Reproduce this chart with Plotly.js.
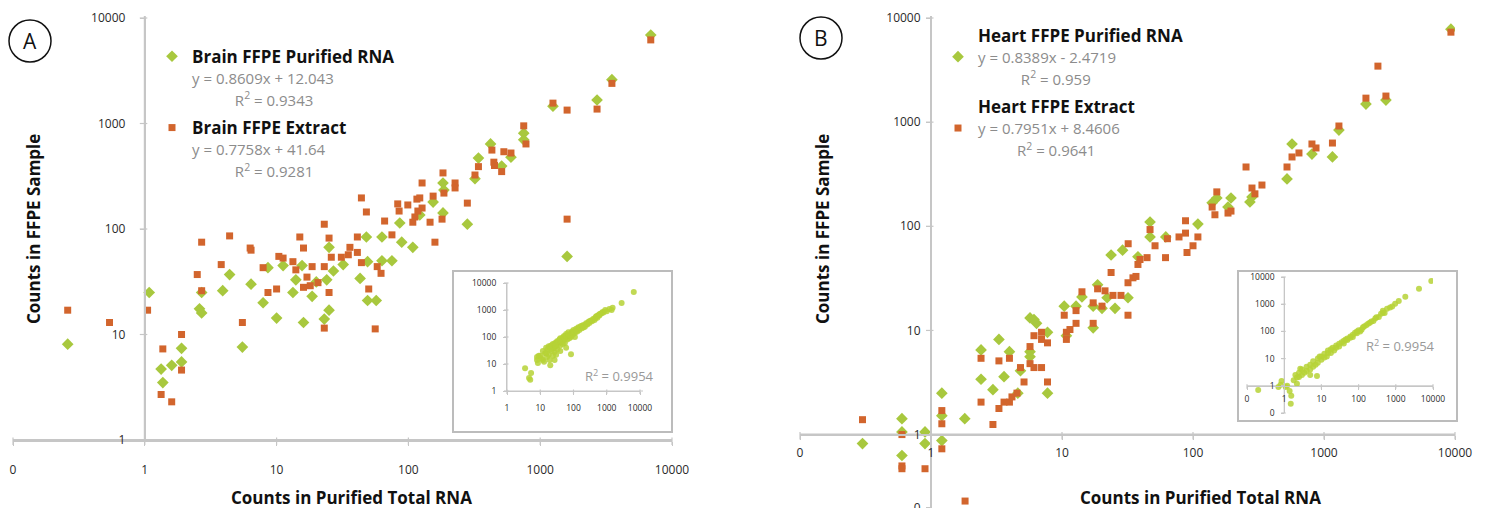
<!DOCTYPE html>
<html><head><meta charset="utf-8">
<script src="https://cdn.plot.ly/plotly-3.0.1.min.js"></script>
<style>html,body{margin:0;padding:0;background:#fff}#chart{width:1489px;height:508px}</style>
</head><body><div id="chart"></div><script>
// ---------- DATA ----------
const mainTickVals = [0.1, 1, 10, 100, 1000, 10000];
const mainTickText = ['0', '1', '10', '100', '1000', '10000'];
const brainYTickVals = [1, 10, 100, 1000, 10000];
const brainYTickText = ['1', '10', '100', '1000', '10000'];
const heartYTickVals = [0.2, 1, 10, 100, 1000, 10000];
const heartYTickText = ['0', '1', '10', '100', '1000', '10000'];
const insetATickVals = [1, 10, 100, 1000, 10000];
const insetATickText = ['1', '10', '100', '1000', '10000'];
const insetBTickVals = [0.1, 1, 10, 100, 1000, 10000];
const insetBTickText = ['0', '1', '10', '100', '1000', '10000'];

const seriesNames = ['Brain FFPE Purified RNA', 'Brain FFPE Extract', 'Heart FFPE Purified RNA', 'Heart FFPE Extract'];
const equations = ['y = 0.8609x + 12.043', 'y = 0.7758x + 41.64', 'y = 0.8389x - 2.4719', 'y = 0.7951x + 8.4606'];
const rSquared = ['0.9343', '0.9281', '0.959', '0.9641'];
const insetRSquared = ['0.9954', '0.9954'];

const brainPurifiedX = [0.26,1.08,1.33,1.37,1.6,1.9,1.9,2.6,2.7,2.7,4.4,3.9,5.5,6.4,8.6,7.9,10,11.2,13.3,14,15.6,16,18.6,20,24,25,23,27,32,43,49,49,57,63,75,86,48,63,89,25,6900,3500,2700,1250,750,750,420,600,340,320,510,183,186,154,122,280,183,108,1600];
const brainPurifiedY = [8.1,25,4.7,3.5,5.1,7.4,5.5,17.5,16,25,37,26,7.6,30,43,20,14.3,45,25,33,45,13,23,31.5,33,17,14,40,46,34,49,21,21,50,50,114,84,84,75,67,6900,2600,1670,1460,810,700,640,480,470,300,395,273,234,180,136,111,142,67,55];

const brainExtractX = [0.26,0.54,1.05,1.37,1.33,1.6,1.9,1.9,2.5,2.7,3.8,5.5,6.4,7.9,8.6,10,10.4,11.2,13.3,14,16,17,18.6,18,20.6,23,25,23,26,31,35,41,44,50,56,58,62,44,48,23,66,83,85,99,116,108,75,2.7,4.4,6.3,15,16,25,41,112,36,6900,3500,2700,1250,1600,750,780,430,530,600,340,320,445,450,510,183,127,226,226,186,154,122,127,118,280,146,180,159,1600];
const brainExtractY = [17,13,17,7.3,2.7,2.3,10,4.6,37,26,46,13,63,43,25,27,55,53,49,41,28,35,44,29,31,44,25,11.5,54,54,57,60,48,27,11.3,44,38,197,145,111,119,173,148,169,192,116,88,75,86,66,84,66,82,84,130,67,6200,2400,1370,1560,1340,950,640,560,540,525,390,325,430,400,350,340,273,273,245,219,205,197,158,148,176,116,124,75,124];

const heartPurifiedX = [0.3,0.6,0.6,0.6,0.9,0.9,1.21,1.21,1.21,1.81,2.41,2.41,2.97,3.3,3.61,3.97,4.6,4.82,5.7,5.7,5.7,6.11,6.39,7.75,7.75,10.4,10.8,12.8,14.2,17.3,17.3,18.7,20.2,22.1,25.4,23.7,31.9,38,29,47,47,62,109,140,152,185,195,272,282,522,570,809,1160,1300,2090,2970,9310];
const heartPurifiedY = [0.82,1.42,1.06,0.63,1.06,0.82,1.52,0.875,2.5,1.42,6.5,3.4,2.7,8.2,3.6,6.25,2.5,4.1,6.25,5.6,13.2,12.7,11.7,9.6,2.5,17.1,8.9,17.1,21,17.1,10.6,27.4,16.3,20.6,16.3,53,20.6,51,59,110,79,79,105,168,187,153,187,171,191,285,617,494,463,840,1490,1630,7810];

const heartExtractX = [0.3,0.6,0.6,0.6,0.9,1.21,1.21,1.21,1.82,2.41,2.97,2.41,3.3,3.3,3.61,3.97,3.97,4.15,4.53,4.82,5.13,5.7,5.7,6.11,6.11,6.98,6.98,6.98,7.75,7.75,10.4,10.8,10.8,11.5,12.8,12.8,14.2,17.3,17.3,18.7,20.2,21.3,23.7,24.5,28.2,31.9,31.9,34.8,36.7,38,39.4,44.6,61.7,90,47,51.3,63.8,78.2,87.7,87.7,109,100,140,147,152,185,195,254,282,297,336,522,570,644,809,869,1160,1300,2090,2970,2580,9310,32];
const heartExtractY = [1.39,1.0,0.5,0.47,0.47,1.7,1.27,0.73,0.23,2.05,1.25,5.4,5.1,1.78,2.05,2.05,5.4,2.3,2.5,4.4,3.2,7.0,4.8,4.4,8.9,9.6,4.4,8.2,7.6,3.2,14,9.6,8.2,10.2,15.5,11.7,23.5,18.4,11.7,25.1,17.1,24,36,21.7,21.7,14,28.7,32,33,43,48,50,50,56,93,65,76,79,86,113,79,65,153,129,214,134,140,371,233,205,249,371,463,506,617,565,630,918,1700,1780,3450,7310,68];

const insetAX = [3.5,4.6,5,5.3,8,8.5,8,12,20,27,84,10,12,14,15,17,18,20,22,24,25,27,28,30,32,33,35,38,40,42,45,48,50,52,55,58,60,65,68,70,75,80,85,90,95,100,110,120,130,140,150,165,180,200,220,240,260,280,300,330,360,400,430,470,520,560,600,650,700,750,800,900,1400,1500,2800,6500,
  15,18,22,26,30,35,40,45,50,55,60,70,80,90,100,120,150,180,200,250,300,350,450,500,600,1000,1200,9,11,13,16,19,24,30,40,60,110,20,28];
const insetAY = [7,3,2.6,4.6,14,11,18,14,9,14,23,20,30,25,40,35,22,45,30,55,38,28,60,45,70,35,55,80,48,65,90,55,75,110,60,95,130,80,110,150,90,130,100,160,120,180,140,200,160,230,180,250,210,280,240,320,290,360,330,400,380,470,430,560,520,640,620,720,760,850,800,1000,1000,1200,1800,4600,
  25,45,50,42,60,70,90,70,100,85,110,120,110,140,150,170,220,260,230,300,380,420,500,600,700,900,1100,20,16,12,18,14,20,22,30,40,100,35,50];

const insetBX = [0.2,0.8,0.85,1.4,1.5,1.55,2.7,2.5,7.6,2,2.5,3,3.5,4,5,5,6,7,8,9,10,12,14,15,18,20,22,25,30,35,40,45,50,60,70,80,90,100,120,140,160,200,250,300,350,400,450,580,960,1800,4200,9000,
  1.2,1.8,2.2,3,4,6,8,10,12,15,18,25,30,40,50,60,70,90,110,130,180,220,280,450,500,700,800,1200,1.1,0.7,2.2,5];
const insetBY = [0.7,1.1,1.5,0.65,0.22,0.43,4.2,2.1,2.3,2.5,3,4,3,5,6,4,8,6,10,12,9,15,12,20,16,25,20,30,28,40,36,50,48,65,62,90,85,110,115,150,170,210,240,330,340,450,580,680,1030,1870,3700,7200,
  1.0,1.6,2,2.5,3.5,5,7,12,11,16,22,25,35,45,55,58,75,100,100,140,190,230,300,480,470,750,820,1300,0.9,0.9,1.2,2.5];

// ---------- STYLE / LAYOUT ----------
const W = 1489, H = 508;
const px = v => v / W;
const py = v => 1 - v / H;
const FONT = '"Open Sans", "Liberation Sans", sans-serif';
const GREEN = '#a8c83e', ORANGE = '#d2652d', INSET = '#b6d236';
const LINE = '#c6c6c6', GREY = '#8c8c8c';
const nb = n => '\u00a0'.repeat(n);

function legendText(i, indent) {
  return '<b><span style="font-size:17px">' + seriesNames[i] + '</span></b><br>' +
    '<span style="font-size:15px;color:' + GREY + '">' + equations[i] + '</span><br>' +
    '<span style="font-size:15px;color:' + GREY + '">' + nb(indent) + 'R<sup>2</sup> = ' + rSquared[i] + '</span>';
}

const traces = [
  {x: brainPurifiedX, y: brainPurifiedY, xaxis: 'x', yaxis: 'y', type: 'scatter', mode: 'markers',
   name: legendText(0, 11), legend: 'legend', legendgroup: 'a1', marker: {symbol: 'diamond', size: 9, color: GREEN}},
  {x: brainExtractX, y: brainExtractY, xaxis: 'x', yaxis: 'y', type: 'scatter', mode: 'markers',
   name: legendText(1, 11), legend: 'legend', legendgroup: 'a2', marker: {symbol: 'square', size: 7, color: ORANGE}},
  {x: heartPurifiedX, y: heartPurifiedY, xaxis: 'x2', yaxis: 'y2', type: 'scatter', mode: 'markers',
   name: legendText(2, 11), legend: 'legend2', legendgroup: 'b1', marker: {symbol: 'diamond', size: 9, color: GREEN}},
  {x: heartExtractX, y: heartExtractY, xaxis: 'x2', yaxis: 'y2', type: 'scatter', mode: 'markers',
   name: legendText(3, 10), legend: 'legend2', legendgroup: 'b2', marker: {symbol: 'square', size: 7, color: ORANGE}},
  {x: insetAX, y: insetAY, xaxis: 'x3', yaxis: 'y3', type: 'scatter', mode: 'markers', showlegend: false,
   marker: {symbol: 'circle', size: 6, color: INSET, opacity: 0.85}},
  {x: insetBX, y: insetBY, xaxis: 'x4', yaxis: 'y4', type: 'scatter', mode: 'markers', showlegend: false,
   marker: {symbol: 'circle', size: 6, color: INSET, opacity: 0.85}}
];

function ax(extra) {
  return Object.assign({
    type: 'log', showgrid: false, zeroline: false, showline: true, linecolor: LINE, linewidth: 2,
    ticks: 'outside', ticklen: 4, tickcolor: LINE, tickwidth: 1, tickmode: 'array',
    tickfont: {family: FONT, size: 12, color: '#2a2a2a'}, fixedrange: true, ticklabeloverflow: 'allow'
  }, extra);
}
function inax(extra) {
  return ax(Object.assign({linewidth: 1, ticklen: 3, tickfont: {family: FONT, size: 8.5, color: '#2a2a2a'}}, extra));
}

// axis geometry (paper coordinates)
const geo = {
  xA: {dom: [px(13), px(672)], range: [-1, 4]},
  yA: {dom: [py(440), py(18)], range: [0, 4]},
  xB: {dom: [px(800), px(1455)], range: [-1, 4]},
  yB: {dom: [0, py(18)], range: [-0.705, 4]},
  xIA: {dom: [px(507), px(640)], range: [0, 4]},
  yIA: {dom: [py(391), py(283)], range: [0, 4]},
  xIB: {dom: [px(1247), px(1433)], range: [-1, 4]},
  yIB: {dom: [py(413), py(277)], range: [-1, 4]}
};
const frac = (g, v) => g.dom[0] + (Math.log10(v) - g.range[0]) / (g.range[1] - g.range[0]) * (g.dom[1] - g.dom[0]);
const posYA = frac(geo.xA, 1), posXB = frac(geo.yB, 1), posYB = frac(geo.xB, 1);
const posXIB = frac(geo.yIB, 1), posYIB = frac(geo.xIB, 1);

// draw axis lines + tick marks as shapes
const shapes = [];
function axisShapes(g, horizontal, pos, vals, len, width, lineEnd) {
  const base = {type: 'line', xref: 'paper', yref: 'paper', layer: 'below', line: {color: LINE, width: width}};
  const d1 = lineEnd !== undefined ? lineEnd : g.dom[1];
  if (horizontal) {
    shapes.push(Object.assign({}, base, {x0: g.dom[0], x1: d1, y0: pos, y1: pos}));
    vals.forEach(v => { const x = frac(g, v); if (x >= g.dom[0] - 1e-6 && x <= g.dom[1] + 1e-6)
      shapes.push(Object.assign({}, base, {line: {color: LINE, width: 1.2}, x0: x, x1: x, y0: pos + len / H * 0.5, y1: pos - len / H})); });
  } else {
    shapes.push(Object.assign({}, base, {x0: pos, x1: pos, y0: g.dom[0], y1: d1}));
    vals.forEach(v => { const y = frac(g, v); if (y >= g.dom[0] - 1e-6 && y <= g.dom[1] + 1e-6)
      shapes.push(Object.assign({}, base, {line: {color: LINE, width: 1.2}, x0: pos - len / W, x1: pos + len / W * 0.5, y0: y, y1: y})); });
  }
}
axisShapes(geo.xA, true, geo.yA.dom[0], mainTickVals, 5, 2);
axisShapes(geo.yA, false, posYA, brainYTickVals, 5, 2, py(16));
axisShapes(geo.xB, true, posXB, mainTickVals, 5, 2);
axisShapes(geo.yB, false, posYB, heartYTickVals.slice(1), 5, 2, py(16));
axisShapes(geo.xIA, true, geo.yIA.dom[0], insetATickVals, 3, 1, px(643));
axisShapes(geo.yIA, false, geo.xIA.dom[0], insetATickVals, 3, 1);
axisShapes(geo.xIB, true, posXIB, insetBTickVals, 3, 1);
axisShapes(geo.yIB, false, posYIB, insetBTickVals, 3, 1);

shapes.push(
  {type: 'rect', xref: 'paper', yref: 'paper', x0: px(453), x1: px(672), y0: py(432), y1: py(271),
   line: {color: '#bcbcbc', width: 2}},
  {type: 'rect', xref: 'paper', yref: 'paper', x0: px(1238), x1: px(1457), y0: py(421), y1: py(271),
   line: {color: '#bcbcbc', width: 2}},
  {type: 'circle', xref: 'paper', yref: 'paper', x0: px(9), x1: px(51), y0: py(62), y1: py(20),
   line: {color: '#111', width: 1.5}},
  {type: 'circle', xref: 'paper', yref: 'paper', x0: px(800), x1: px(842), y0: py(59), y1: py(17),
   line: {color: '#111', width: 1.5}}
);

function note(text, x, y, size, color, extra) {
  return Object.assign({text: text, xref: 'paper', yref: 'paper', x: px(x), y: py(y), xanchor: 'center', yanchor: 'middle',
    showarrow: false, font: {family: FONT, size: size, color: color}}, extra || {});
}

const layout = {
  width: W, height: H, margin: {l: 0, r: 0, t: 0, b: 0},
  paper_bgcolor: '#fff', plot_bgcolor: 'rgba(0,0,0,0)', hovermode: false,
  font: {family: FONT, color: '#111'},
  xaxis: ax({domain: geo.xA.dom, range: geo.xA.range, tickvals: mainTickVals, ticktext: mainTickText,
             anchor: 'y', ticklabelstandoff: 14}),
  yaxis: ax({domain: geo.yA.dom, range: geo.yA.range, tickvals: brainYTickVals, ticktext: brainYTickText,
             anchor: 'free', position: posYA, ticklabelstandoff: 12}),
  xaxis2: ax({domain: geo.xB.dom, range: geo.xB.range, tickvals: mainTickVals, ticktext: mainTickText,
              anchor: 'free', position: posXB, ticklabelstandoff: 3}),
  yaxis2: ax({domain: geo.yB.dom, range: geo.yB.range, tickvals: heartYTickVals, ticktext: heartYTickText,
              anchor: 'free', position: posYB, ticklabelstandoff: 3}),
  xaxis3: inax({domain: geo.xIA.dom, range: geo.xIA.range, tickvals: insetATickVals, ticktext: insetATickText,
                anchor: 'y3', ticklabelstandoff: 6}),
  yaxis3: inax({domain: geo.yIA.dom, range: geo.yIA.range, tickvals: insetATickVals, ticktext: insetATickText,
                anchor: 'x3', ticklabelstandoff: 5}),
  xaxis4: inax({domain: geo.xIB.dom, range: geo.xIB.range, tickvals: insetBTickVals, ticktext: insetBTickText,
                anchor: 'free', position: posXIB, ticklabelstandoff: 2}),
  yaxis4: inax({domain: geo.yIB.dom, range: geo.yIB.range, tickvals: insetBTickVals, ticktext: insetBTickText,
                anchor: 'free', position: posYIB, ticklabelstandoff: 5}),
  legend: {x: px(152), y: py(39), xanchor: 'left', yanchor: 'top', bgcolor: 'rgba(0,0,0,0)',
           font: {family: FONT, size: 16.5, color: '#111'}, valign: 'top', traceorder: 'grouped', tracegroupgap: 4},
  legend2: {x: px(938), y: py(18), xanchor: 'left', yanchor: 'top', bgcolor: 'rgba(0,0,0,0)',
            font: {family: FONT, size: 16.5, color: '#111'}, valign: 'middle', traceorder: 'grouped', tracegroupgap: 4},
  shapes: shapes,
  annotations: [
    note('A', 30, 41, 21, '#111'),
    note('B', 821, 38, 21, '#111'),
    note('<b>Counts in Purified Total RNA</b>', 351, 497, 17, '#111'),
    note('<b>Counts in Purified Total RNA</b>', 1200, 497, 17, '#111'),
    note('<b>Counts in FFPE Sample</b>', 33, 229, 17, '#111', {textangle: -90}),
    note('<b>Counts in FFPE Sample</b>', 822, 229, 17, '#111', {textangle: -90}),
    note('R<sup>2</sup> = ' + insetRSquared[0], 619, 375, 13, '#999'),
    note('R<sup>2</sup> = ' + insetRSquared[1], 1400, 345, 13, '#999')
  ]
};

Plotly.newPlot('chart', traces, layout, {staticPlot: true, displayModeBar: false});
</script></body></html>
